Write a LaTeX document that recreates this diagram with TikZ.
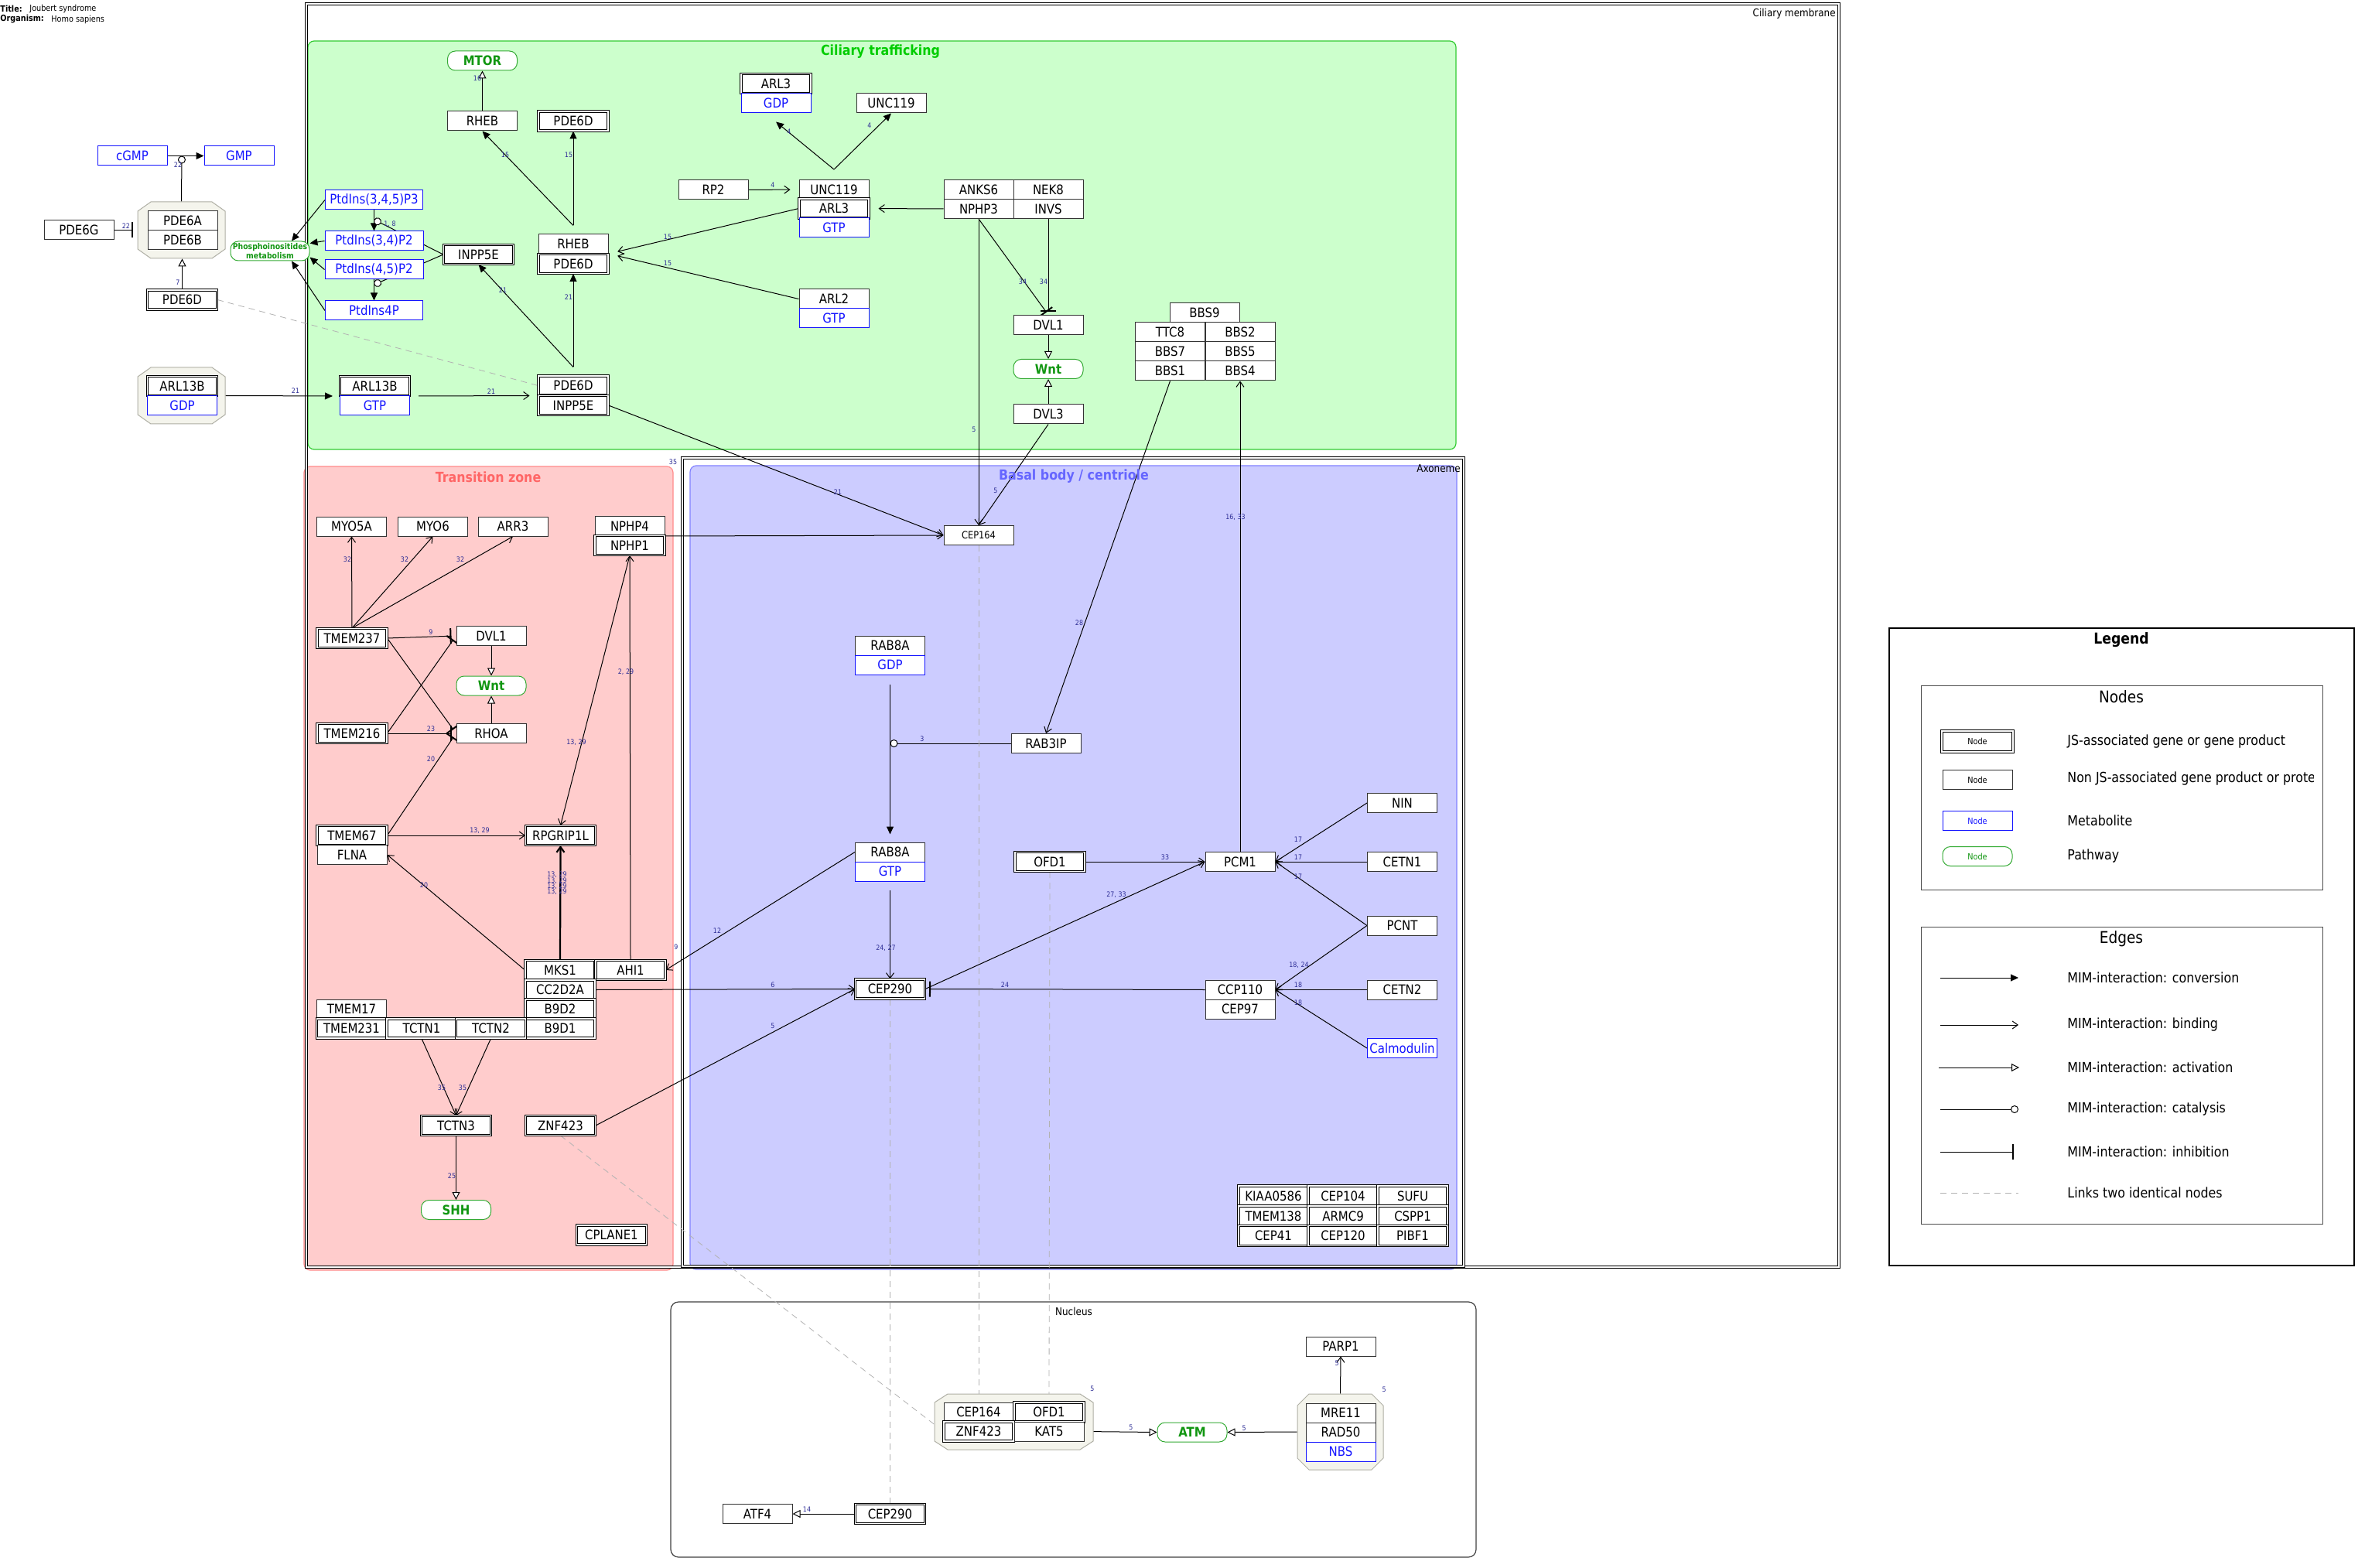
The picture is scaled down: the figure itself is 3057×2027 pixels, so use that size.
\documentclass[tikz,border=0pt]{standalone}
\usepackage{fontspec}
\setmainfont[FakeStretch=0.88]{DejaVu Sans}
\usetikzlibrary{arrows.meta,calc}
\pgfdeclarelayer{bg}
\pgfdeclarelayer{edges}
\pgfsetlayers{bg,edges,main}
\definecolor{ctfill}{RGB}{204,255,204}
\definecolor{ctline}{RGB}{51,204,51}
\definecolor{cttext}{RGB}{0,204,0}
\definecolor{tzfill}{RGB}{255,204,204}
\definecolor{tzline}{RGB}{255,140,140}
\definecolor{tztext}{RGB}{255,102,102}
\definecolor{bbfill}{RGB}{204,204,255}
\definecolor{bbline}{RGB}{130,130,255}
\definecolor{bbtext}{RGB}{102,102,255}
\definecolor{metc}{RGB}{20,20,255}
\definecolor{pwline}{RGB}{51,170,51}
\definecolor{pwtext}{RGB}{17,150,17}
\definecolor{lblc}{RGB}{45,45,150}
\definecolor{octf}{RGB}{244,244,236}
\definecolor{octl}{RGB}{175,175,165}
\tikzset{
  nbase/.style={rectangle, inner sep=0pt, minimum width=45pt, minimum height=12.5pt, fill=white, font=\fontsize{8.5}{9}\selectfont},
  gene/.style={nbase, draw=black!80, line width=0.5pt},
  js/.style={nbase, draw=black, line width=0.5pt, double=white, double distance=0.8pt},
  metab/.style={nbase, draw=metc, text=metc, line width=0.5pt},
  pway/.style={nbase, draw=pwline, text=pwtext, rounded corners=5pt, line width=0.5pt, font=\fontsize{8.5}{9}\selectfont\bfseries},
  hold/.style={rectangle, inner sep=0pt},
  lbl/.style={inner sep=0pt, text=lblc, font=\fontsize{4.5}{5}\selectfont},
  lnk/.style={line width=0.5pt, draw=black},
  conv/.style={lnk, -{Triangle[length=5pt,width=4.5pt]}},
  bind/.style={lnk, -{Straight Barb[length=3.5pt,width=5pt]}},
  act/.style={lnk, -{Triangle[length=5pt,width=5pt,fill=white]}},
  cat/.style={lnk, -{Circle[length=5pt,fill=white]}},
  inh/.style={lnk, -{Bar[width=10pt,line width=1pt]}},
  ident/.style={draw=gray!60, line width=0.4pt, dash pattern=on 4pt off 3pt},
  octo/.style={fill=octf, draw=octl, line width=0.5pt},
  small/.style={font=\fontsize{5.5}{6}\selectfont},
  ltxt/.style={anchor=west, inner sep=0pt, font=\fontsize{9}{10}\selectfont},
  rtitle/.style={inner sep=0pt, font=\fontsize{9}{10}\selectfont\bfseries},
  ctext/.style={inner sep=0pt, font=\fontsize{6.8}{8}\selectfont},
  ttext/.style={inner sep=0pt, anchor=west, font=\fontsize{5.5}{6.5}\selectfont},
}
\begin{document}
\begin{tikzpicture}[x=0.5pt, y=-0.5pt]
\useasboundingbox (0,0) rectangle (3057,2027);
\begin{pgfonlayer}{bg}
\fill[white] (0,0) rectangle (3057,2027);
\filldraw[fill=ctfill, draw=ctline, line width=0.6pt, rounded corners=4pt] (398,53) rectangle (1882,581);
\filldraw[fill=tzfill, draw=tzline, line width=0.6pt, rounded corners=4pt] (393,603) rectangle (870,1642);
\filldraw[fill=bbfill, draw=bbline, line width=0.6pt, rounded corners=4pt] (892,602) rectangle (1883,1641);
\draw[black, line width=0.5pt, double=white, double distance=1pt] (396,5) rectangle (2377,1638);
\draw[black, line width=0.5pt, double=white, double distance=1pt] (882,592) rectangle (1892,1637);
\draw[black!75, line width=0.6pt, rounded corners=5pt] (867,1683) rectangle (1908,2013);
\draw[black, line width=1.2pt] (2442,812) rectangle (3043,1636);
\draw[black!70, line width=0.5pt] (2483,886) rectangle (3002,1150);
\draw[black!70, line width=0.5pt] (2483,1198) rectangle (3002,1582);
\end{pgfonlayer}

% titles
\node[ttext, font=\fontsize{5.5}{6.5}\selectfont\bfseries] (ttl) at (0,11) {Title:};
\node[ttext] (ttlv) at (38,11) {Joubert syndrome};
\node[ttext, font=\fontsize{5.5}{6.5}\selectfont\bfseries] (org) at (0,25) {Organism:};
\node[ttext] (orgv) at (66,25) {Homo sapiens};
\node[ctext, anchor=east] (cmem) at (2373,18) {Ciliary membrane};
\node[ctext, anchor=east] (axo) at (1888,606) {Axoneme};
\node[ctext] (nucl) at (1388,1695) {Nucleus};
\node[rtitle, text=cttext] (ctt) at (1138,67) {Ciliary trafficking};
\node[rtitle, text=tztext] (tzt) at (631,617) {Transition zone};
\node[rtitle, text=bbtext] (bbt) at (1388,616) {Basal body / centriole};

% left area
\node[metab] (cgmp) at (171,201.5) {cGMP};
\node[metab] (gmp) at (309,201.5) {GMP};
\filldraw[octo] (195,261) -- (274,261) -- (291,273) -- (291,322) -- (274,334) -- (195,334) -- (178,322) -- (178,273) -- cycle;
\node[hold, minimum width=56.5pt, minimum height=36.5pt] (pde6c) at (234.5,297.5) {};
\node[gene] (pde6a) at (236,285) {PDE6A};
\node[gene] (pde6b) at (236,310) {PDE6B};
\node[gene] (pde6g) at (102,297.5) {PDE6G};
\node[js] (pde6dl) at (235.5,387.5) {PDE6D};
\node[pway, minimum width=51pt, font=\fontsize{5.3}{5.6}\selectfont\bfseries, align=center] (phos) at (349,324.5) {Phosphoinositides\\metabolism};
\node[metab, minimum width=63pt] (p345) at (483.5,258.5) {PtdIns(3,4,5)P3};
\node[metab, minimum width=63.5pt] (p34) at (483.5,311.5) {PtdIns(3,4)P2};
\node[metab, minimum width=63.5pt] (p45) at (483.5,348.5) {PtdIns(4,5)P2};
\node[metab, minimum width=63pt] (p4) at (483.5,401.5) {PtdIns4P};
\filldraw[octo] (195,475) -- (274,475) -- (291,487) -- (291,536) -- (274,548) -- (195,548) -- (178,536) -- (178,487) -- cycle;
\node[hold, minimum width=56.5pt, minimum height=36.5pt] (arlc) at (234.5,511.5) {};
\node[js] (arl13ba) at (235.5,499) {ARL13B};
\node[metab] (gdp1) at (235.5,524.5) {GDP};
\node[js] (arl13bb) at (484.5,499) {ARL13B};
\node[metab] (gtp1) at (484.5,524.5) {GTP};

% ciliary trafficking
\node[pway] (mtor) at (623.5,78.5) {MTOR};
\node[gene] (rheb1) at (623.5,156.5) {RHEB};
\node[js] (pde6d1) at (741,156.5) {PDE6D};
\node[gene] (rheb2) at (741,315.5) {RHEB};
\node[js] (pde6d2) at (741,341) {PDE6D};
\node[js] (inpp5e1) at (618.5,329) {INPP5E};
\node[js] (pde6d3) at (741,498.5) {PDE6D};
\node[js] (inpp5e2) at (741,524) {INPP5E};
\node[js] (arl3a) at (1003,108) {ARL3};
\node[metab] (gdp2) at (1003,133.5) {GDP};
\node[gene] (unc119a) at (1152,133.5) {UNC119};
\node[gene] (rp2) at (922,245.5) {RP2};
\node[gene] (unc119b) at (1078,245) {UNC119};
\node[js] (arl3b) at (1078,269.5) {ARL3};
\node[metab] (gtp2) at (1078,294.5) {GTP};
\node[gene] (anks6) at (1265,245) {ANKS6};
\node[gene] (nek8) at (1355,245) {NEK8};
\node[gene] (nphp3) at (1265,270) {NPHP3};
\node[gene] (invs) at (1355,270) {INVS};
\node[gene] (arl2) at (1078,386.5) {ARL2};
\node[metab] (gtp3) at (1078,411.5) {GTP};
\node[gene] (dvl1a) at (1355,420) {DVL1};
\node[pway] (wnt1) at (1355,477) {Wnt};
\node[gene] (dvl3) at (1355,535.5) {DVL3};
\node[gene] (bbs9) at (1557,404.5) {BBS9};
\node[gene] (ttc8) at (1512.5,429.5) {TTC8};
\node[gene] (bbs2) at (1603,429.5) {BBS2};
\node[gene] (bbs7) at (1512.5,454.5) {BBS7};
\node[gene] (bbs5) at (1603,454.5) {BBS5};
\node[gene] (bbs1) at (1512.5,479.5) {BBS1};
\node[gene] (bbs4) at (1603,479.5) {BBS4};

% transition zone
\node[gene] (myo5a) at (454.5,680.5) {MYO5A};
\node[gene] (myo6) at (559.5,680.5) {MYO6};
\node[gene] (arr3) at (663,680.5) {ARR3};
\node[gene] (nphp4) at (814,680) {NPHP4};
\node[js] (nphp1) at (814,705) {NPHP1};
\node[js] (tmem237) at (455,825) {TMEM237};
\node[gene] (dvl1b) at (635,822) {DVL1};
\node[pway] (wnt2) at (635,886.5) {Wnt};
\node[gene] (rhoa) at (635,948) {RHOA};
\node[js] (tmem216) at (455,948) {TMEM216};
\node[js] (tmem67) at (455,1080) {TMEM67};
\node[gene] (flna) at (455,1105) {FLNA};
\node[js] (rpgrip1l) at (724.5,1080) {RPGRIP1L};
\node[js] (mks1) at (724,1254) {MKS1};
\node[js] (ahi1) at (815,1254) {AHI1};
\node[js] (cc2d2a) at (724,1279.5) {CC2D2A};
\node[js] (b9d2) at (724,1304.5) {B9D2};
\node[js] (b9d1) at (724,1329.5) {B9D1};
\node[gene] (tmem17) at (454.5,1304.5) {TMEM17};
\node[js] (tmem231) at (454.5,1329.5) {TMEM231};
\node[js] (tctn1) at (545,1329.5) {TCTN1};
\node[js] (tctn2) at (634.5,1329.5) {TCTN2};
\node[js] (tctn3) at (589.5,1455) {TCTN3};
\node[js] (znf423a) at (724.5,1455) {ZNF423};
\node[pway] (shh) at (589.5,1564) {SHH};
\node[js] (cplane1) at (790.5,1596.5) {CPLANE1};

% basal body
\node[gene, font=\fontsize{6.5}{7}\selectfont] (cep164a) at (1265,692) {CEP164};
\node[gene] (rab8a1) at (1150.5,834.5) {RAB8A};
\node[metab] (gdp3) at (1150.5,859.5) {GDP};
\node[gene] (rab3ip) at (1352,961) {RAB3IP};
\node[gene] (rab8a2) at (1150.5,1101.5) {RAB8A};
\node[metab] (gtp4) at (1150.5,1126.5) {GTP};
\node[gene] (nin) at (1812.5,1038) {NIN};
\node[js] (ofd1a) at (1357,1114) {OFD1};
\node[gene] (pcm1) at (1603,1114) {PCM1};
\node[gene] (cetn1) at (1812.5,1114) {CETN1};
\node[gene] (pcnt) at (1812.5,1196.5) {PCNT};
\node[js] (cep290a) at (1150.5,1278.5) {CEP290};
\node[gene] (ccp110) at (1603,1279.5) {CCP110};
\node[gene] (cep97) at (1603,1304.5) {CEP97};
\node[gene] (cetn2) at (1812.5,1279.5) {CETN2};
\node[metab] (calm) at (1812.5,1355) {Calmodulin};
\node[js, minimum height=13pt] (k1) at (1646,1546) {KIAA0586};
\node[js, minimum height=13pt] (k2) at (1736,1546) {CEP104};
\node[js, minimum height=13pt] (k3) at (1826,1546) {SUFU};
\node[js, minimum height=13pt] (k4) at (1646,1572) {TMEM138};
\node[js, minimum height=13pt] (k5) at (1736,1572) {ARMC9};
\node[js, minimum height=13pt] (k6) at (1826,1572) {CSPP1};
\node[js, minimum height=13pt] (k7) at (1646,1597.5) {CEP41};
\node[js, minimum height=13pt] (k8) at (1736,1597.5) {CEP120};
\node[js, minimum height=13pt] (k9) at (1826,1597.5) {PIBF1};

% nucleus
\filldraw[octo] (1225,1802) -- (1396,1802) -- (1413,1813) -- (1413,1863) -- (1396,1874) -- (1225,1874) -- (1208,1863) -- (1208,1813) -- cycle;
\node[hold, minimum width=102.5pt, minimum height=36pt] (nuc1c) at (1310.5,1838) {};
\node[gene] (cep164b) at (1265,1825.5) {CEP164};
\node[js] (ofd1b) at (1356,1825.5) {OFD1};
\node[js] (znf423b) at (1265,1850.5) {ZNF423};
\node[gene] (kat5) at (1356,1850.5) {KAT5};
\node[pway] (atm) at (1541,1851.5) {ATM};
\filldraw[octo] (1692,1802) -- (1773,1802) -- (1788,1817) -- (1788,1885) -- (1773,1900) -- (1692,1900) -- (1677,1885) -- (1677,1817) -- cycle;
\node[hold, minimum width=55.5pt, minimum height=49pt] (mrnc) at (1732.5,1851) {};
\node[gene] (mre11) at (1733,1826.5) {MRE11};
\node[gene] (rad50) at (1733,1851.5) {RAD50};
\node[metab] (nbs) at (1733,1876.5) {NBS};
\node[gene] (parp1) at (1733,1740.5) {PARP1};
\node[gene] (atf4) at (979,1957) {ATF4};
\node[js] (cep290b) at (1150.5,1957) {CEP290};

\coordinate (cat0) at (235,201.5);
\coordinate (cat1) at (483.5,284);
\coordinate (cat2) at (483.5,368);
\coordinate (catr) at (1150.5,961);
\coordinate (v1) at ($(rheb2.north)+(0,-11)$);
\coordinate (v2) at ($(pde6d3.north)+(0,-11)$);
\coordinate (v3) at ($(unc119b.north)+(0,-13)$);

\begin{pgfonlayer}{edges}
\draw[conv] (cgmp) -- (gmp);
\draw[cat] (pde6c.north) -- (cat0);
\draw[inh, shorten >=3pt] (pde6g) -- (pde6c);
\draw[act] (pde6dl.north) -- (pde6dl.north |- pde6c.south);
\draw[ident] (pde6dl.east) -- (pde6d3.west);
\draw[conv] (p345.west) -- ($(phos.north)+(28,0)$);
\draw[conv] (p34.west) -- ($(phos.east)+(0,-10)$);
\draw[conv] (p45.west) -- ($(phos.east)+(0,8)$);
\draw[conv] (p4.west) -- ($(phos.south)+(28,0)$);
\draw[conv] (p345) -- (p34);
\draw[conv] (p45) -- (p4);
\draw[cat] (inpp5e1.west) -- (cat1);
\draw[cat] (inpp5e1.west) -- (cat2);
\draw[conv, shorten >=4.5pt] (arlc.east) -- (arl13bb.south west);
\draw[bind, shorten <=5.5pt, shorten >=5.5pt] (arl13bb.south east) -- (pde6d3.south west);
\draw[act] (rheb1) -- (mtor);
\draw[conv] (v1) -- (rheb1.south);
\draw[conv] (v1) -- (pde6d1.south);
\draw[conv] (v2) -- (inpp5e1.south);
\draw[conv] (v2) -- (pde6d2.south);
\draw[conv] (v3) -- ($(gdp2.south)+(0,11)$);
\draw[conv] (v3) -- (unc119a.south);
\draw[bind, shorten >=5.5pt] (rp2) -- (unc119b);
\draw[bind, shorten >=6pt] (nphp3.west) -- (arl3b.east);
\draw[bind, shorten >=6pt] (arl3b.west) -- (pde6d2.north east);
\draw[bind, shorten >=6pt] (arl2.west) -- (pde6d2.north east);
\draw[inh, shorten >=2pt] (nphp3.south) -- (dvl1a.north);
\draw[inh, shorten >=2pt] (invs.south) -- (dvl1a.north);
\draw[bind] (nphp3.south) -- (cep164a.north);
\draw[act] (dvl1a) -- (wnt1);
\draw[act] (dvl3) -- (wnt1);
\draw[bind] (dvl3.south) -- (cep164a.north);
\draw[bind] (inpp5e2.east) -- (cep164a.west);
\draw[bind] (nphp4.south east) -- (cep164a.west);
\draw[bind] (bbs1.south) -- (rab3ip.north);
\draw[bind] (pcm1.north) -- (bbs4.south);
\draw[bind] (tmem237.north) -- (myo5a.south);
\draw[bind] (tmem237.north) -- (myo6.south);
\draw[bind] (tmem237.north) -- (arr3.south);
\draw[inh, shorten >=3pt] (tmem237.east) -- (dvl1b.west);
\draw[inh, shorten >=3pt] (tmem237.east) -- (rhoa.west);
\draw[inh, shorten >=3pt] (tmem216.east) -- (dvl1b.west);
\draw[inh, shorten >=3pt] (tmem216.east) -- (rhoa.west);
\draw[inh, shorten >=3pt] (tmem67.east) -- (rhoa.west);
\draw[act] (dvl1b) -- (wnt2);
\draw[act] (rhoa) -- (wnt2);
\draw[bind] (tmem67) -- (rpgrip1l);
\draw[bind] (nphp1.south) -- (rpgrip1l.north);
\draw[bind] (ahi1.north) -- (nphp1.south);
\draw[bind, line width=1.1pt] (mks1.north) -- (rpgrip1l.south);
\draw[bind] (mks1.west) -- (flna.east);
\draw[bind] (tctn1.south) -- (tctn3.north);
\draw[bind] (tctn2.south) -- (tctn3.north);
\draw[act] (tctn3) -- (shh);
\draw[conv] ($(gdp3.south)+(0,12)$) -- ($(rab8a2.north)+(0,-10)$);
\draw[cat] (rab3ip.west) -- (catr);
\draw[bind] ($(gtp4.south)+(0,11)$) -- (cep290a.north);
\draw[bind] (rab8a2.west) -- (ahi1.east);
\draw[bind] (cc2d2a.east) -- (cep290a.west);
\draw[bind] (znf423a.east) -- (cep290a.west);
\draw[inh, shorten >=2.5pt] (ccp110.west) -- (cep290a.east);
\draw[bind] (cep290a.east) -- (pcm1.west);
\draw[bind] (ofd1a) -- (pcm1);
\draw[bind] (nin.west) -- (pcm1.east);
\draw[bind] (cetn1) -- (pcm1);
\draw[bind] (pcnt.west) -- (pcm1.east);
\draw[bind] (pcnt.west) -- (ccp110.east);
\draw[bind] (cetn2) -- (ccp110);
\draw[bind] (calm.west) -- (ccp110.east);
\draw[ident] (znf423a.south) -- (znf423b.west);
\draw[ident] (cep164a.south) -- (cep164b.north);
\draw[ident] (ofd1a.south) -- (ofd1b.north);
\draw[ident] (cep290a.south) -- (cep290b.north);
\draw[act] (kat5.east) -- (atm.west);
\draw[act] (mrnc.west) -- (atm.east);
\draw[bind] (mrnc.north) -- (parp1.south);
\draw[act] (cep290b) -- (atf4);
\end{pgfonlayer}

% edge labels
\node[lbl] (l1) at (230,213) {22};
\node[lbl] (l2) at (163,292) {22};
\node[lbl] (l3) at (230,365) {7};
\node[lbl] (l4) at (504,290) {1, 8};
\node[lbl] (l5) at (382,505) {21};
\node[lbl] (l6) at (617,101) {16};
\node[lbl] (l7) at (653,200) {15};
\node[lbl] (l8) at (735,200) {15};
\node[lbl] (l9) at (650,375) {21};
\node[lbl] (l10) at (735,384) {21};
\node[lbl] (l11) at (635,506) {21};
\node[lbl] (l12) at (1020,170) {4};
\node[lbl] (l13) at (1124,162) {4};
\node[lbl] (l14) at (999,239) {4};
\node[lbl] (l15) at (863,306) {15};
\node[lbl] (l16) at (863,340) {15};
\node[lbl] (l17) at (1322,364) {34};
\node[lbl] (l18) at (1349,364) {34};
\node[lbl] (l19) at (1259,555) {5};
\node[lbl] (l20) at (1287,634) {5};
\node[lbl] (l21) at (1083,636) {21};
\node[lbl] (l22) at (870,597) {35};
\node[lbl] (l23) at (1395,805) {28};
\node[lbl] (l24) at (1597,669) {16, 33};
\node[lbl] (l25) at (1192,955) {3};
\node[lbl] (l26) at (1145,1226) {24, 27};
\node[lbl] (l27) at (927,1203) {12};
\node[lbl] (l28) at (874,1224) {9};
\node[lbl] (l29) at (999,1273) {6};
\node[lbl] (l30) at (999,1326) {5};
\node[lbl] (l31) at (1299,1273) {24};
\node[lbl] (l32) at (1443,1157) {27, 33};
\node[lbl] (l33) at (1506,1108) {33};
\node[lbl] (l34) at (1678,1085) {17};
\node[lbl] (l35) at (1678,1108) {17};
\node[lbl] (l36) at (1678,1133) {17};
\node[lbl] (l37) at (1679,1248) {18, 24};
\node[lbl] (l38) at (1678,1273) {18};
\node[lbl] (l39) at (1678,1296) {18};
\node[lbl] (l40) at (449,723) {32};
\node[lbl] (l41) at (523,723) {32};
\node[lbl] (l42) at (595,723) {32};
\node[lbl] (l43) at (557,817) {9};
\node[lbl] (l44) at (557,942) {23};
\node[lbl] (l45) at (557,981) {20};
\node[lbl] (l46) at (620,1074) {13, 29};
\node[lbl] (l47) at (745,960) {13, 29};
\node[lbl] (l48) at (809,869) {2, 29};
\node[lbl] (l49) at (720,1131) {13, 29};
\node[lbl] (l50) at (720,1138.5) {13, 29};
\node[lbl] (l51) at (720,1146) {13, 29};
\node[lbl] (l52) at (720,1153) {13, 29};
\node[lbl] (l53) at (548,1144) {20};
\node[lbl] (l54) at (571,1406) {35};
\node[lbl] (l55) at (598,1406) {35};
\node[lbl] (l56) at (584,1520) {25};
\node[lbl] (l57) at (1412,1795) {5};
\node[lbl] (l58) at (1462,1845) {5};
\node[lbl] (l59) at (1608,1846) {5};
\node[lbl] (l60) at (1728,1762) {5};
\node[lbl] (l61) at (1789,1796) {5};
\node[lbl] (l62) at (1043,1951) {14};

% legend
\node[inner sep=0pt, font=\fontsize{9.8}{10.5}\selectfont\bfseries] (legt) at (2742,827) {Legend};
\node[inner sep=0pt, font=\fontsize{10.5}{11}\selectfont] (legn) at (2742,901) {Nodes};
\node[js, small, minimum width=46pt, minimum height=13.5pt] (ln1) at (2556,958.5) {Node};
\node[gene, small] (ln2) at (2556,1008) {Node};
\node[metab, small] (ln3) at (2556,1061) {Node};
\node[pway, small] (ln4) at (2556,1107) {Node};
\node[ltxt] (ld1) at (2672,959) {JS-associated gene or gene product};
\begin{scope}
\clip (2483,990) rectangle (2990,1025);
\node[ltxt] (ld2) at (2672,1007) {Non JS-associated gene product or protein};
\end{scope}
\node[ltxt] (ld3) at (2672,1061) {Metabolite};
\node[ltxt] (ld4) at (2672,1107) {Pathway};
\node[inner sep=0pt, font=\fontsize{10.5}{11}\selectfont] (lege) at (2742,1213.5) {Edges};
\coordinate (e1a) at (2508,1264); \coordinate (e1b) at (2609,1264);
\coordinate (e2a) at (2508,1325); \coordinate (e2b) at (2609,1325);
\coordinate (e3a) at (2506,1380); \coordinate (e3b) at (2610,1380);
\coordinate (e4a) at (2508,1434); \coordinate (e4b) at (2609,1434);
\coordinate (e5a) at (2508,1489); \coordinate (e5b) at (2603,1489);
\coordinate (e6a) at (2508,1542); \coordinate (e6b) at (2609,1542);
\draw[conv] (e1a) -- (e1b);
\draw[bind] (e2a) -- (e2b);
\draw[act] (e3a) -- (e3b);
\draw[cat] (e4a) -- (e4b);
\draw[inh] (e5a) -- (e5b);
\draw[ident] (e6a) -- (e6b);
\node[ltxt] (ed1) at (2672,1264) {MIM-interaction: conversion};
\node[ltxt] (ed2) at (2672,1325) {MIM-interaction: binding};
\node[ltxt] (ed3) at (2672,1380) {MIM-interaction: activation};
\node[ltxt] (ed4) at (2672,1434) {MIM-interaction: catalysis};
\node[ltxt] (ed5) at (2672,1489) {MIM-interaction: inhibition};
\node[ltxt] (ed6) at (2672,1542) {Links two identical nodes};
\end{tikzpicture}
\end{document}
